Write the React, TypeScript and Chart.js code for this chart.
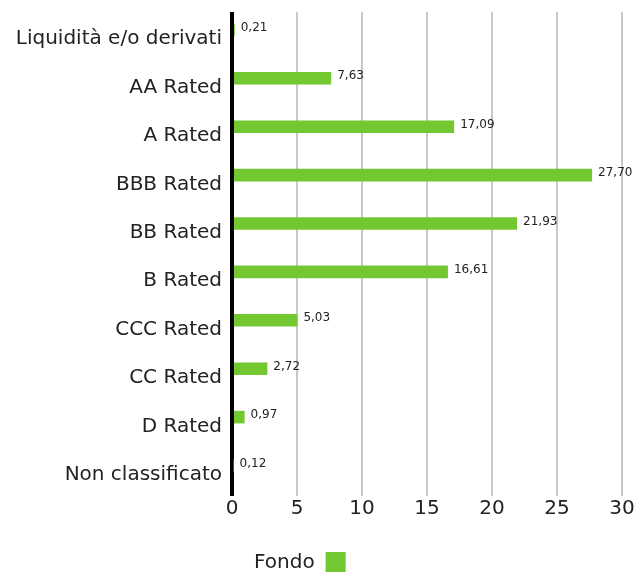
import React, { useEffect, useRef } from "react";
import { Chart, registerables } from "chart.js";

Chart.register(...registerables);

const categories = [
  "Liquidità e/o derivati",
  "AA Rated",
  "A Rated",
  "BBB Rated",
  "BB Rated",
  "B Rated",
  "CCC Rated",
  "CC Rated",
  "D Rated",
  "Non classificato",
];
const fondoValues = [0.21, 7.63, 17.09, 27.7, 21.93, 16.61, 5.03, 2.72, 0.97, 0.12];
const seriesLabel = "Fondo";
const xTicks = [0, 5, 10, 15, 20, 25, 30];

const GREEN = "#73c831";
const FONT = "'DejaVu Sans', sans-serif";

export default function App() {
  const ref = useRef<HTMLCanvasElement | null>(null);

  useEffect(() => {
    document.body.style.margin = "0";
    const canvas = ref.current;
    if (!canvas) return;

    const valueLabels = {
      id: "valueLabels",
      afterDatasetsDraw(chart: any) {
        const ctx = chart.ctx;
        const meta = chart.getDatasetMeta(0);
        ctx.save();
        ctx.font = `12px ${FONT}`;
        ctx.fillStyle = "#222";
        ctx.textAlign = "left";
        ctx.textBaseline = "middle";
        meta.data.forEach((bar: any, i: number) => {
          const v = fondoValues[i];
          ctx.fillText(v.toFixed(2).replace(".", ","), bar.x + 6, bar.y - 2);
        });
        ctx.restore();
      },
    };

    const customLegend = {
      id: "customLegend",
      afterDraw(chart: any) {
        const ctx = chart.ctx;
        ctx.save();
        ctx.font = `20px ${FONT}`;
        ctx.fillStyle = "#222";
        ctx.textAlign = "left";
        ctx.textBaseline = "middle";
        const textX = 254;
        const y = 563;
        ctx.fillText(seriesLabel, textX, y);
        const w = ctx.measureText(seriesLabel).width;
        ctx.fillStyle = GREEN;
        ctx.fillRect(textX + w + 11, y - 11, 20, 20);
        ctx.restore();
      },
    };

    const chart = new Chart(canvas, {
      type: "bar",
      data: {
        labels: categories,
        datasets: [
          {
            label: seriesLabel,
            data: fondoValues,
            backgroundColor: GREEN,
            borderWidth: 0,
            barPercentage: 1,
            categoryPercentage: 0.52,
          },
          {
            label: "",
            data: categories.map(() => null),
            backgroundColor: "transparent",
            barPercentage: 1,
            categoryPercentage: 0.52,
          },
        ],
      },
      options: {
        indexAxis: "y",
        animation: false,
        responsive: false,
        layout: { padding: { top: 12, bottom: 50, left: 0, right: 0 } },
        plugins: {
          legend: { display: false },
          tooltip: { enabled: false },
        },
        scales: {
          x: {
            min: 0,
            max: 30,
            afterBuildTicks: (scale: any) => {
              scale.ticks = xTicks.map((v) => ({ value: v }));
            },
            afterFit: (scale: any) => {
              scale.paddingRight = 12;
            },
            ticks: {
              font: { family: FONT, size: 20 },
              color: "#222",
              padding: 1,
            },
            grid: {
              drawTicks: false,
              color: (c: any) => (c.tick && c.tick.value === 0 ? "#000" : "#c8c8c8"),
              lineWidth: (c: any) => (c.tick && c.tick.value === 0 ? 4 : 2),
            },
            border: { display: false },
          },
          y: {
            afterFit: (scale: any) => {
              scale.width = 232;
              scale.paddingTop = 0;
              scale.paddingBottom = 0;
            },
            ticks: {
              font: { family: FONT, size: 20 },
              color: "#222",
              padding: 10,
              labelOffset: 3,
            },
            grid: { display: false, drawTicks: false },
            border: { display: false },
          },
        },
      },
      plugins: [valueLabels, customLegend],
    });

    return () => chart.destroy();
  }, []);

  return (
    <div style={{ width: 634, height: 572 }}>
      <canvas ref={ref} width={634} height={572} style={{ display: "block" }} />
    </div>
  );
}
